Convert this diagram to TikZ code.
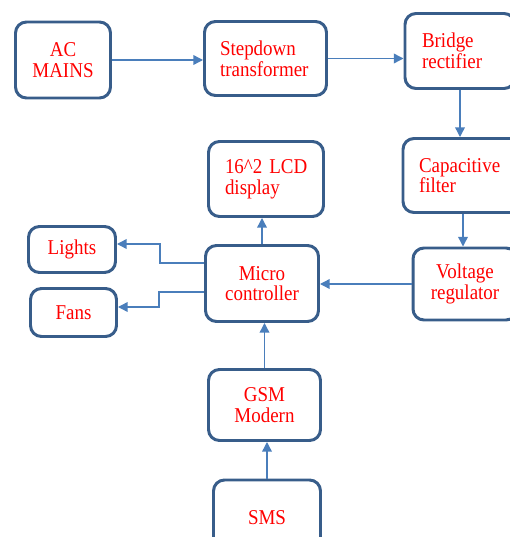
\documentclass[tikz,border=0pt]{standalone}
\usepackage{fontspec}
\setmainfont{Liberation Serif}[FakeStretch=0.9]
\usepackage{xcolor}
\usepackage{tikz}
\usetikzlibrary{arrows.meta, positioning}

\definecolor{boxblue}{RGB}{56,93,138}
\definecolor{linkblue}{RGB}{74,126,187}
\definecolor{labelred}{RGB}{255,0,0}

\begin{document}
\begin{tikzpicture}[
        >={Triangle[length=5.5pt, width=5.5pt]},
        block/.style={draw=boxblue, line width=1.7pt, rounded corners=0.22cm, align=center,
                      text=labelred, font=\rmfamily\fontsize{12}{11.8}\selectfont, inner sep=0.1cm},
        leftblock/.style={block, align=left},
        arrow/.style={->, draw=linkblue, line width=0.8pt}
    ]

        \useasboundingbox (0,0) rectangle (10.2,-10.74);

        % power supply chain
        \node[block, minimum width=1.9cm, minimum height=1.52cm] (acmains) at (1.26,-1.2) {AC\\MAINS};
        \node[leftblock, text width=1.82cm, minimum width=2.44cm, minimum height=1.48cm] (stepdown) at (5.31,-1.17) {Stepdown\\transformer};
        \node[leftblock, text width=1.52cm, minimum width=2.2cm, minimum height=1.5cm] (bridge) at (9.2,-1.02) {Bridge\\rectifier};
        \node[leftblock, text width=1.76cm, minimum width=2.4cm, minimum height=1.48cm] (capfilter) at (9.26,-3.51) {Capacitive\\filter};
        \node[block, minimum width=2.08cm, minimum height=1.44cm] (regulator) at (9.3,-5.68) {Voltage\\regulator};

        % control part
        \node[leftblock, text width=1.64cm, minimum width=2.3cm, minimum height=1.5cm] (lcd) at (5.32,-3.58) {\mbox{16\textasciicircum{}2 LCD}\\display};
        \node[block, minimum width=2.26cm, minimum height=1.52cm] (micro) at (5.24,-5.67) {Micro\\controller};
        \node[block, minimum width=1.74cm, minimum height=0.92cm] (lights) at (1.44,-4.99) {Lights};
        \node[block, minimum width=1.72cm, minimum height=0.96cm] (fans) at (1.47,-6.25) {Fans};
        \node[block, minimum width=2.24cm, minimum height=1.42cm] (gsm) at (5.29,-8.1) {GSM\\Modern};
        \node[block, minimum width=2.14cm, minimum height=1.5cm] (sms) at (5.34,-10.35) {SMS};

        \draw[arrow] (acmains.east) -- (acmains.east -| stepdown.west);
        \draw[arrow] (stepdown.east) -- (stepdown.east -| bridge.west);
        \draw[arrow] (bridge.south) -- (bridge.south |- capfilter.north);
        \draw[arrow] (capfilter.south) -- (capfilter.south |- regulator.north);
        \draw[arrow] (regulator.west) -- (regulator.west -| micro.east);

        \draw[arrow] (micro.north) -- (micro.north |- lcd.south);
        \draw[arrow] ([yshift=0.41cm]micro.west) -- ++(-0.88,0) |- ([yshift=0.11cm]lights.east);
        \draw[arrow] ([yshift=-0.17cm]micro.west) -- ++(-0.9,0) |- ([yshift=0.11cm]fans.east);
        \draw[arrow] (gsm.north) -- (gsm.north |- micro.south);
        \draw[arrow] (sms.north) -- (sms.north |- gsm.south);

    \end{tikzpicture}
\end{document}
